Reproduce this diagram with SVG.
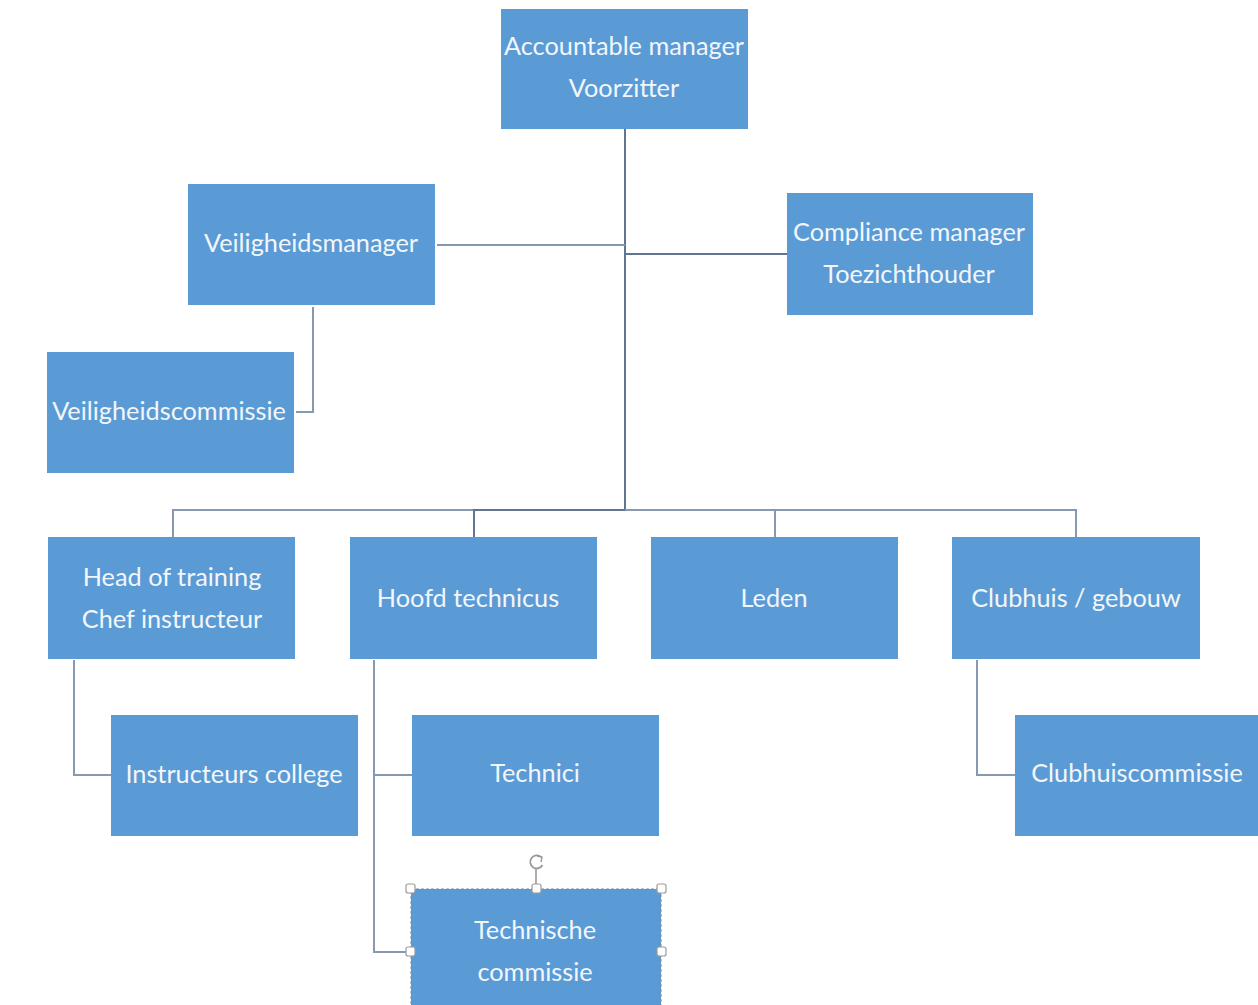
<svg xmlns="http://www.w3.org/2000/svg" width="1258" height="1005" viewBox="0 0 1258 1005">
<style>
.box{fill:#5b9bd5}
.t{font-family:Lato,"Open Sans",sans-serif;font-size:25.3px;fill:#f2f6fb;text-anchor:middle;dominant-baseline:central}
.c{fill:none;stroke:#8799b0;stroke-width:2}
.trunk{fill:none;stroke:#5f7592;stroke-width:2}
.h{fill:#fff;stroke:#9a9a9a;stroke-width:1.2}
</style>
<rect width="1258" height="1005" fill="#fff"/>
<g id="connectors">
<path class="trunk" d="M625 129V510"/>
<path class="c" d="M437 245H625"/>
<path class="trunk" d="M625 254H787"/>
<path class="c" d="M313 307V412H296"/>
<path class="c" d="M173 537V510H1076V537"/>
<path class="trunk" d="M474 537V510H625"/>
<path class="c" d="M775 510V537"/>
<path class="c" d="M74 660V775H111"/>
<path class="c" d="M374 660V952H411M374 775H412"/>
<path class="c" d="M977 660V775H1015"/>
</g>
<g id="accountable"><rect class="box" x="501" y="9" width="247" height="120"/><text class="t" x="624" y="45">Accountable manager</text><text class="t" x="624" y="87">Voorzitter</text></g>
<g id="veiligheidsmanager"><rect class="box" x="188" y="184" width="247" height="121"/><text class="t" x="311" y="242">Veiligheidsmanager</text></g>
<g id="compliance"><rect class="box" x="787" y="193" width="246" height="122"/><text class="t" x="909" y="231">Compliance manager</text><text class="t" x="909" y="273">Toezichthouder</text></g>
<g id="veiligheidscommissie"><rect class="box" x="47" y="352" width="247" height="121"/><text class="t" x="169" y="410">Veiligheidscommissie</text></g>
<g id="head-of-training"><rect class="box" x="48" y="537" width="247" height="122"/><text class="t" x="172" y="576">Head of training</text><text class="t" x="172" y="618">Chef instructeur</text></g>
<g id="hoofd-technicus"><rect class="box" x="350" y="537" width="247" height="122"/><text class="t" x="468" y="597">Hoofd technicus</text></g>
<g id="leden"><rect class="box" x="651" y="537" width="247" height="122"/><text class="t" x="774" y="597">Leden</text></g>
<g id="clubhuis"><rect class="box" x="952" y="537" width="248" height="122"/><text class="t" x="1076" y="597">Clubhuis / gebouw</text></g>
<g id="instructeurs-college"><rect class="box" x="111" y="715" width="247" height="121"/><text class="t" x="234" y="773">Instructeurs college</text></g>
<g id="technici"><rect class="box" x="412" y="715" width="247" height="121"/><text class="t" x="535" y="772">Technici</text></g>
<g id="clubhuiscommissie"><rect class="box" x="1015" y="715" width="243" height="121"/><text class="t" x="1137" y="772">Clubhuiscommissie</text></g>
<g id="technische-commissie">
<rect class="box" x="411" y="889" width="250" height="116"/>
<rect x="411" y="889" width="250" height="120" fill="none" stroke="#7a8aa0" stroke-width="1" stroke-dasharray="3,2"/>
<text class="t" x="535" y="929">Technische</text><text class="t" x="535" y="971">commissie</text>
<path d="M536 869V889" stroke="#777" stroke-width="1.2"/>
<path d="M541 857a6.5 6.5 0 1 0 1.5 8" fill="none" stroke="#999" stroke-width="1.8"/>
<path d="M537 856l5 1-1 5" fill="none" stroke="#999" stroke-width="1.4"/>
<rect class="h" x="406" y="884" width="9" height="9" rx="2"/>
<rect class="h" x="532" y="884" width="9" height="9" rx="2"/>
<rect class="h" x="657" y="884" width="9" height="9" rx="2"/>
<rect class="h" x="406" y="947" width="9" height="9" rx="2"/>
<rect class="h" x="657" y="947" width="9" height="9" rx="2"/>
</g>
</svg>
